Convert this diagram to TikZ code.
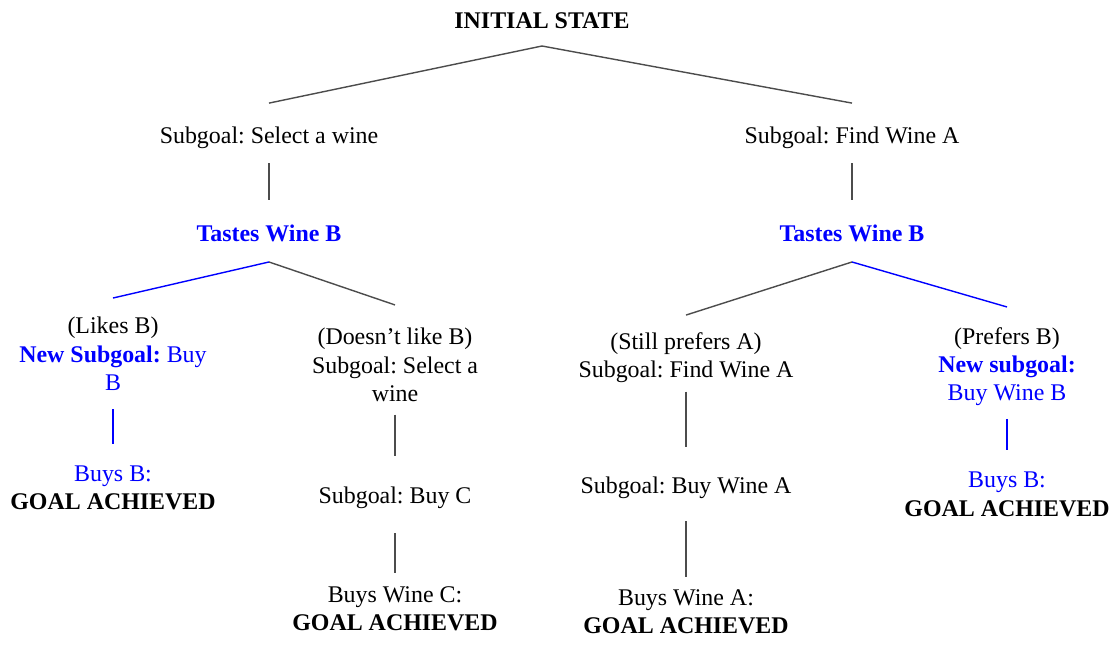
\documentclass[tikz,border=0pt]{standalone}
\usepackage{fontspec}
\setmainfont{Liberation Serif}
\frenchspacing
\begin{document}
\begin{tikzpicture}[x=0.025cm,y=-0.025cm,
		node_style/.style={inner sep=0pt,anchor=north,align=center,font=\fontsize{17}{20}\selectfont},
		node_style1/.style={node_style,font=\fontsize{17}{20}\selectfont\bfseries},
		node_style2/.style={node_style1,text=blue},
		edge_style/.style={draw=black!70,line width=1pt},
		edge_style1/.style={draw=blue,line width=1pt}]

	\useasboundingbox (0,0) rectangle (1118,646);

	\node[node_style1] (init) at (542,12.5) {INITIAL STATE};
	\node[node_style] (sg1) at (269,127) {Subgoal: Select a wine};
	\node[node_style] (sg2) at (852,127) {Subgoal: Find Wine A};
	\node[node_style2] (ts1) at (269,224.5) {Tastes Wine B};
	\node[node_style2] (ts2) at (852,224.5) {Tastes Wine B};

	\node[node_style] (likes) at (113,317) {(Likes B)\\
		\textcolor{blue}{\textbf{New Subgoal:} Buy}\\ \textcolor{blue}{B}};
	\node[node_style] (dislike) at (395,328) {(Doesn't like B)\\Subgoal: Select a\\wine};
	\node[node_style] (still) at (686,332.5) {(Still prefers A)\\Subgoal: Find Wine A};
	\node[node_style] (prefers) at (1007,327.5) {(Prefers B)\\
		\textcolor{blue}{\textbf{New subgoal:}}\\ \textcolor{blue}{Buy Wine B}};

	\node[node_style] (buysb1) at (113,465.5) {\textcolor{blue}{Buys B:}\\\textbf{GOAL ACHIEVED}};
	\node[node_style] (buyc) at (395,487) {Subgoal: Buy C};
	\node[node_style] (buysc) at (395,586.5) {Buys Wine C:\\\textbf{GOAL ACHIEVED}};
	\node[node_style] (buya) at (686,477) {Subgoal: Buy Wine A};
	\node[node_style] (buysa) at (686,589.5) {Buys Wine A:\\\textbf{GOAL ACHIEVED}};
	\node[node_style] (buysb2) at (1007,472) {\textcolor{blue}{Buys B:}\\\textbf{GOAL ACHIEVED}};

	\draw[edge_style] ([yshift=-12pt]init.south) -- ([yshift=17pt]sg1.north);
	\draw[edge_style] ([yshift=-12pt]init.south) -- ([yshift=17pt]sg2.north);
	\draw[edge_style] ([yshift=-10pt]sg1.south) -- ([yshift=17.4pt]ts1.north);
	\draw[edge_style] ([yshift=-10pt]sg2.south) -- ([yshift=17.4pt]ts2.north);

	\draw[edge_style1] ([yshift=-14.2pt]ts1.south) -- ([yshift=13.5pt]likes.north);
	\draw[edge_style] ([yshift=-14.2pt]ts1.south) -- ([yshift=16.4pt]dislike.north);
	\draw[edge_style] ([yshift=-14.2pt]ts2.south) -- ([yshift=12.4pt]still.north);
	\draw[edge_style1] ([yshift=-14.2pt]ts2.south) -- ([yshift=14.6pt]prefers.north);

	\draw[edge_style1] ([yshift=-13.5pt]likes.south) -- ([yshift=15.3pt]buysb1.north);
	\draw[edge_style] ([yshift=-9.2pt]dislike.south) -- ([yshift=22pt]buyc.north);
	\draw[edge_style] ([yshift=-17pt]buyc.south) -- ([yshift=9.6pt]buysc.north);
	\draw[edge_style] ([yshift=-6pt]still.south) -- ([yshift=21.3pt]buya.north);
	\draw[edge_style] ([yshift=-15.6pt]buya.south) -- ([yshift=8.9pt]buysa.north);
	\draw[edge_style1] ([yshift=-8.9pt]prefers.south) -- ([yshift=15.6pt]buysb2.north);

\end{tikzpicture}
\end{document}
